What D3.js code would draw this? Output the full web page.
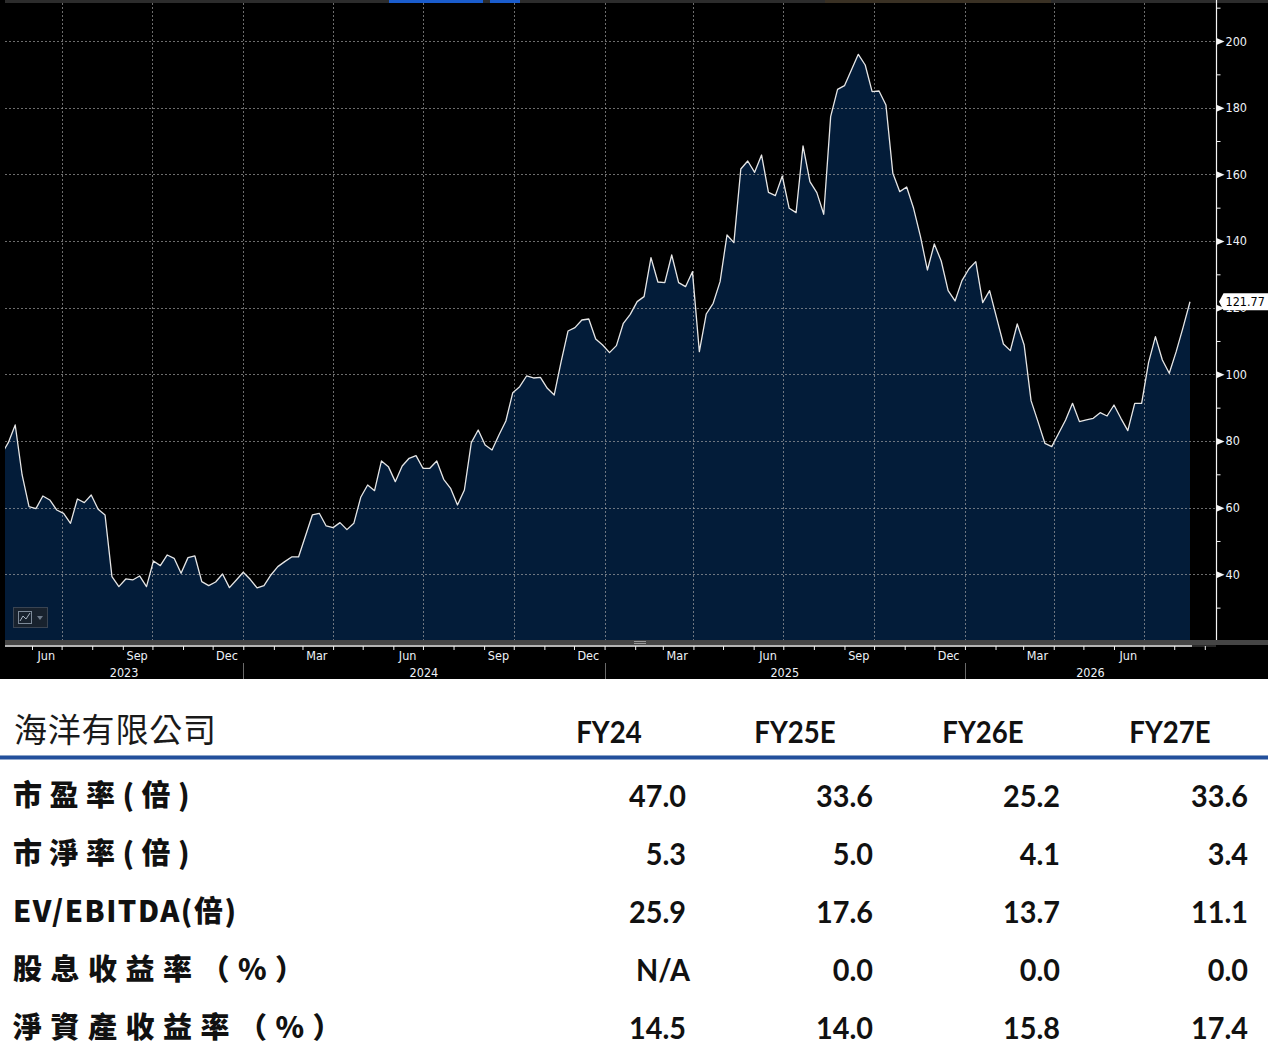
<!DOCTYPE html>
<html><head><meta charset="utf-8">
<script src="https://cdn.jsdelivr.net/npm/d3@7"></script>
<style>html,body{margin:0;padding:0;background:#fff;} svg{display:block}</style>
</head><body>
<svg id="c" width="1268" height="1056"></svg>
<script>
// ---------- DATA ----------
const startDate = "2023-05-01";   // weekly observations
const prices = [76, 79.5, 84.8, 69.8, 60.3, 59.7, 63.5, 62.3, 59.3, 58.3, 55.3,
  62.6, 61.5, 63.8, 59.5, 57.8, 39.3, 36.3, 38.6, 38.3, 39.5,
  36.3, 44.0, 42.6, 45.8, 44.8, 40.3, 45.0, 45.5, 37.8, 36.6,
  37.7, 40.1, 36.0, 38.3, 40.6, 38.5, 35.9, 36.6, 39.8, 42.3,
  43.8, 45.2, 45.2, 51.5, 57.8, 58.3, 54.5, 54.0, 55.5, 53.4,
  55.3, 63.1, 66.8, 65.1, 74.0, 72.3, 67.8, 72.5, 74.8, 75.6,
  71.8, 71.8, 74.0, 68.5, 65.8, 60.8, 65.3, 79.5, 83.3, 78.8,
  77.3, 81.8, 86.0, 94.5, 96.3, 99.5, 98.9, 99.1, 95.8, 93.8,
  103.8, 113.0, 114.0, 116.3, 116.6, 110.6, 108.8, 106.5, 108.6, 115.3,
  118.0, 121.8, 123.3, 135.0, 127.7, 127.5, 135.8, 127.5, 126.3, 130.8,
  106.8, 118.1, 121.3, 127.8, 141.8, 139.5, 161.6, 164.0, 160.6, 165.8,
  154.6, 153.6, 159.5, 149.8, 148.5, 168.5, 157.8, 154.5, 148.0, 177.3,
  185.5, 186.6, 191.3, 196.0, 192.8, 184.8, 185.0, 180.8, 160.3, 154.8,
  156.2, 149.8, 141.3, 131.3, 139.1, 134.0, 125.1, 122.0, 128.1, 131.6,
  133.8, 121.5, 125.1, 117.1, 109.1, 107.1, 115.1, 108.8, 92.1, 85.8,
  79.3, 78.3, 82.3, 86.3, 91.3, 85.8, 86.3, 86.8, 88.5, 87.5,
  90.8, 86.8, 83.1, 91.3, 91.3, 103.5, 111.3, 104.3, 100.3, 106.8,
  114.1, 121.77];
const yTicks = [20, 40, 60, 80, 100, 120, 140, 160, 180, 200];
const yMinor = [30, 50, 70, 90, 110, 130, 150, 170, 190, 210];
const lastLabel = "121.77";
const labelMonths = [2, 5, 8, 11];   // Mar, Jun, Sep, Dec
const years = [2023, 2024, 2025, 2026];

const tableTitle = "海洋有限公司";
const colHeaders = ["FY24", "FY25E", "FY26E", "FY27E"];
const rowLabels = ["市盈率(倍)", "市淨率(倍)", "EV/EBITDA(倍)", "股息收益率（%）", "淨資產收益率（%）"];
const fy24  = ["47.0", "5.3", "25.9", "N/A", "14.5"];
const fy25e = ["33.6", "5.0", "17.6", "0.0", "14.0"];
const fy26e = ["25.2", "4.1", "13.7", "0.0", "15.8"];
const fy27e = ["33.6", "3.4", "11.1", "0.0", "17.4"];

// ---------- LAYOUT ----------
const svg = d3.select("#c");
const W = 1268;
const chartH = 679;
const plot = {l: 5, r: 1216, t: 0, b: 640};
const axisX = 1216.5;

const start = d3.timeParse("%Y-%m-%d")(startDate);
const data = prices.map((v, i) => ({date: d3.timeDay.offset(start, 7 * i), v}));

const x = d3.scaleTime().domain([data[1].date, data[data.length - 1].date]).range([8.3, 1190]);
const y = d3.scaleLinear().domain([40, 200]).range([574.3, 41]);

const lab = "'DejaVu Sans Condensed','DejaVu Sans',sans-serif";

// background
svg.append("rect").attr("x", 0).attr("y", 0).attr("width", W).attr("height", chartH).attr("fill", "#000");
svg.append("rect").attr("x", 0).attr("y", chartH).attr("width", W).attr("height", 1056 - chartH).attr("fill", "#fff");

// top strip
svg.append("rect").attr("x", 5).attr("y", 0).attr("width", W - 5).attr("height", 3).attr("fill", "#2c2c2c");
svg.append("rect").attr("x", 825).attr("y", 0).attr("width", 226).attr("height", 3).attr("fill", "#3a3124");
svg.append("rect").attr("x", 389).attr("y", 0).attr("width", 94).attr("height", 3).attr("fill", "#1a5ccc");
svg.append("rect").attr("x", 490).attr("y", 0).attr("width", 30).attr("height", 3).attr("fill", "#1a5ccc");

// clip
svg.append("clipPath").attr("id", "pc").append("rect")
  .attr("x", plot.l).attr("y", plot.t).attr("width", plot.r - plot.l).attr("height", plot.b - plot.t);

const g = svg.append("g").attr("clip-path", "url(#pc)");

// area
const area = d3.area().x(d => x(d.date)).y0(plot.b).y1(d => y(d.v));
g.append("path").datum(data).attr("d", area).attr("fill", "#031c39");

// gridlines
const quarterStarts = d3.timeMonth.range(new Date(2023, 3, 1), new Date(2026, 11, 1))
  .filter(d => d.getMonth() % 3 === 0 && x(d) > plot.l && x(d) < plot.r);
g.selectAll(".vg").data(quarterStarts).enter().append("line")
  .attr("x1", d => Math.round(x(d)) + 0.5).attr("x2", d => Math.round(x(d)) + 0.5)
  .attr("y1", 3).attr("y2", plot.b)
  .attr("stroke", "#a8a8a8").attr("stroke-opacity", 0.65).attr("stroke-dasharray", "2,2");
g.selectAll(".hg").data(yTicks.filter(t => t >= 40)).enter().append("line")
  .attr("x1", plot.l).attr("x2", plot.r)
  .attr("y1", d => Math.round(y(d)) + 0.5).attr("y2", d => Math.round(y(d)) + 0.5)
  .attr("stroke", "#a8a8a8").attr("stroke-opacity", 0.65).attr("stroke-dasharray", "2,2");

// line
const line = d3.line().x(d => x(d.date)).y(d => y(d.v));
g.append("path").datum(data).attr("d", line).attr("fill", "none")
  .attr("stroke", "#e6e6e6").attr("stroke-width", 1.3).attr("stroke-linejoin", "round");

// bottom grey bar + white line
svg.append("rect").attr("x", 5).attr("y", 640).attr("width", W - 5).attr("height", 5).attr("fill", "#454545");
svg.append("line").attr("x1", 634).attr("x2", 646).attr("y1", 641.5).attr("y2", 641.5).attr("stroke", "#9a9a9a");
svg.append("line").attr("x1", 634).attr("x2", 646).attr("y1", 643.5).attr("y2", 643.5).attr("stroke", "#9a9a9a");
svg.append("line").attr("x1", 5).attr("x2", 1192).attr("y1", 646).attr("y2", 646).attr("stroke", "#f0f0f0").attr("stroke-width", 1.5);
svg.append("line").attr("x1", 1192).attr("x2", 1216).attr("y1", 646).attr("y2", 646).attr("stroke", "#555").attr("stroke-width", 1);

// month ticks
const monthStarts = d3.timeMonth.range(new Date(2023, 4, 1), new Date(2026, 10, 1)).filter(d => x(d) > plot.l && x(d) < plot.r);
const tickAxis = d3.axisBottom(x).tickValues(monthStarts).tickSize(4).tickFormat("");
const ta = svg.append("g").attr("transform", "translate(0,646)").call(tickAxis);
ta.select(".domain").remove();
ta.selectAll("line").attr("stroke", "#f0f0f0");

// month labels (mid-month)
const monthMids = d3.timeMonth.range(new Date(2023, 4, 1), new Date(2026, 10, 1))
  .filter(d => labelMonths.includes(d.getMonth()))
  .map(d => d3.timeDay.offset(d, 14)).filter(d => x(d) > plot.l && x(d) < plot.r);
const labAxis = d3.axisBottom(x).tickValues(monthMids).tickSize(0).tickPadding(0).tickFormat(d3.timeFormat("%b"));
const la = svg.append("g").attr("transform", "translate(0,651.5)").call(labAxis);
la.select(".domain").remove();
la.selectAll("text").attr("fill", "#eef2f8").attr("font-family", lab).attr("font-size", 12.5);

// years
years.forEach(yr => {
  const a = Math.max(plot.l, x(new Date(yr, 0, 1)));
  const b = Math.min(plot.r, x(new Date(yr + 1, 0, 1)));
  svg.append("text").attr("x", (a + b) / 2).attr("y", 677).attr("text-anchor", "middle")
    .attr("fill", "#eef2f8").attr("font-family", lab).attr("font-size", 12.5).text(yr);
  const sx = x(new Date(yr, 0, 1));
  if (sx > plot.l && sx < plot.r) {
    svg.append("line").attr("x1", Math.round(sx) + 0.5).attr("x2", Math.round(sx) + 0.5)
      .attr("y1", 663).attr("y2", 679).attr("stroke", "#6a6a6a");
  }
});

// right axis
svg.append("line").attr("x1", axisX).attr("x2", axisX).attr("y1", 0).attr("y2", 640).attr("stroke", "#f4f4f4").attr("stroke-width", 1.2);
const minorAxis = d3.axisRight(y).tickValues(yMinor).tickSize(4).tickFormat("");
const ma = svg.append("g").attr("transform", `translate(${axisX},0)`).call(minorAxis);
ma.select(".domain").remove();
ma.selectAll("line").attr("stroke", "#f4f4f4");

const majorAxis = d3.axisRight(y).tickValues(yTicks.filter(t => y(t) < 636)).tickSize(0).tickPadding(9);
const mj = svg.append("g").attr("transform", `translate(${axisX},0)`).call(majorAxis);
mj.select(".domain").remove();
mj.selectAll("text").attr("fill", "#eef2f8").attr("font-family", lab).attr("font-size", 12.5);
mj.selectAll(".tick").append("path").attr("d", "M0,-3.5L8,0L0,3.5Z").attr("fill", "#f4f4f4");

// last value box (covers the 120 label, as in the terminal view)
const ly = y(prices[prices.length - 1]);
svg.append("path")
  .attr("d", `M1219,${ly}L1223.5,${ly - 8.5}L1268,${ly - 8.5}L1268,${ly + 8.5}L1223.5,${ly + 8.5}Z`)
  .attr("fill", "#ffffff");
svg.append("text").attr("x", 1225.5).attr("y", ly + 4.5).attr("fill", "#000")
  .attr("font-family", lab).attr("font-size", 12.5).text(lastLabel);

// icon bottom-left
svg.append("rect").attr("x", 13.5).attr("y", 607.5).attr("width", 34).attr("height", 20).attr("fill", "#18222e").attr("stroke", "#3a4452");
svg.append("rect").attr("x", 18.5).attr("y", 611.5).attr("width", 13).attr("height", 12).attr("fill", "none").attr("stroke", "#7d8a99");
svg.append("path").attr("d", "M20,621L23,616L26,619L30,613").attr("fill", "none").attr("stroke", "#a8b4c2");
svg.append("path").attr("d", "M37,616L43,616L40,620Z").attr("fill", "#6d7a8a");

// ---------- TABLE ----------
const cjk = "'Noto Sans CJK TC','Noto Sans CJK SC',sans-serif";
const num = "Lato,'Noto Sans',sans-serif";
svg.append("text").attr("x", 14).attr("y", 742).attr("font-family", cjk).attr("font-size", 33)
  .attr("font-weight", 400).attr("letter-spacing", 0.8).attr("fill", "#1a1a1a").text(tableTitle);
const colCenters = [609, 795, 983, 1170];
const colRights = [686, 873, 1060, 1248];
colHeaders.forEach((h, i) => {
  svg.append("text").attr("x", colCenters[i]).attr("y", 743).attr("text-anchor", "middle")
    .attr("font-family", num).attr("font-weight", 700).attr("font-size", 30)
    .attr("fill", "#111").attr("transform", `translate(${colCenters[i]},0) scale(0.92,1) translate(${-colCenters[i]},0)`).text(h);
});
svg.append("rect").attr("x", 0).attr("y", 756).attr("width", W).attr("height", 3.5).attr("fill", "#23509c");
svg.append("rect").attr("x", 0).attr("y", 755).attr("width", W).attr("height", 1).attr("fill", "#8aa3c8");

const rowY = [795, 853, 911, 969, 1027];
const rowSpacing = [7.5, 7.5, 1.5, 8.5, 8.5];
const cols = [fy24, fy25e, fy26e, fy27e];
rowLabels.forEach((r, i) => {
  svg.append("text").attr("x", 13).attr("y", rowY[i] + 11).attr("font-family", cjk).attr("font-size", 29)
    .attr("font-weight", 900).attr("letter-spacing", rowSpacing[i]).attr("fill", "#111").text(r);
  cols.forEach((c, j) => {
    const xr = colRights[j] + (c[i] === "N/A" ? 4 : 0);
    svg.append("text").attr("x", xr).attr("y", rowY[i] + 12).attr("text-anchor", "end")
      .attr("font-family", num).attr("font-weight", 700).attr("font-size", 31).attr("fill", "#111")
      .attr("transform", `translate(${xr},0) scale(0.93,1) translate(${-xr},0)`).text(c[i]);
  });
});
</script>
</body></html>
